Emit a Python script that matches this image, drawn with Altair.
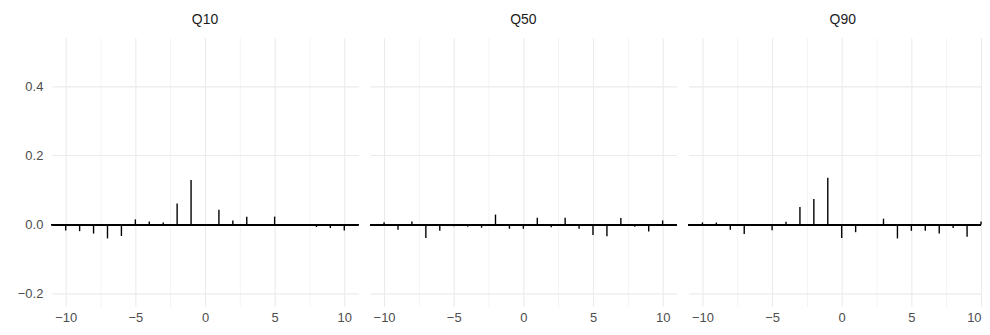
import altair as alt
import pandas as pd

lags = list(range(-10, 11))
q10 = [-0.017, -0.019, -0.026, -0.040, -0.033, 0.015, 0.009, 0.006, 0.061, 0.129, 0.0,
       0.043, 0.012, 0.023, -0.001, 0.023, 0.0, -0.004, -0.007, -0.010, -0.017]
q50 = [0.007, -0.015, 0.009, -0.039, -0.018, -0.005, -0.006, -0.009, 0.029, -0.012, -0.012,
       0.020, -0.008, 0.020, -0.012, -0.030, -0.034, 0.019, -0.006, -0.020, 0.012]
q90 = [0.006, 0.006, -0.015, -0.027, 0.002, -0.016, 0.008, 0.051, 0.074, 0.135, -0.039,
       -0.022, 0.0, 0.017, -0.040, -0.018, -0.018, -0.026, -0.010, -0.035, 0.009]
panels = ["Q10", "Q50", "Q90"]
x_ticks = [-10, -7.5, -5, -2.5, 0, 2.5, 5, 7.5, 10]
y_ticks = [-0.2, -0.1, 0.0, 0.1, 0.2, 0.3, 0.4, 0.5]

FONT = "Liberation Sans"
grid_col = "#EBEBEB"
PANEL_H = 270
yscale = alt.Scale(domain=[-0.236, 0.54], nice=False, zero=False)


def make_panel(name, vals, width, xmax, show_y, dx=0, flush=False):
    df = pd.DataFrame({"lag": lags, "acf": vals, "zero": [0.0] * len(lags)})
    xaxis = alt.Axis(
        values=x_ticks, title=None, ticks=False, domain=False, labelPadding=5,
        labelExpr="datum.value % 5 === 0 ? datum.label : ''",
        labelColor="#4D4D4D", labelFontSize=13, labelFont=FONT,
        gridColor=grid_col, labelFlush=flush,
        gridWidth={"condition": {"test": "datum.value % 5 === 0", "value": 1.1}, "value": 0.6},
    )
    if show_y:
        yaxis = alt.Axis(
            values=y_ticks, title=None, ticks=False, domain=False, labelPadding=9,
            labelExpr="abs(round(datum.value*10)) % 2 === 0 ? format(datum.value, '.1f') : ''",
            labelColor="#4D4D4D", labelFontSize=13, labelFont=FONT,
            gridColor=grid_col, minExtent=44, maxExtent=44,
            gridWidth={"condition": {"test": "abs(round(datum.value*10)) % 2 === 0", "value": 1.1}, "value": 0.6},
        )
    else:
        yaxis = alt.Axis(
            values=y_ticks, title=None, ticks=False, domain=False, labels=False,
            gridColor=grid_col, minExtent=0, maxExtent=0,
            gridWidth={"condition": {"test": "abs(round(datum.value*10)) % 2 === 0", "value": 1.1}, "value": 0.6},
        )
    xscale = alt.Scale(domain=[-11, xmax], nice=False, zero=False)
    bars = alt.Chart(df).mark_rule(color="black", strokeWidth=1.4).encode(
        x=alt.X("lag:Q", scale=xscale, axis=xaxis),
        y=alt.Y("zero:Q", scale=yscale, axis=yaxis),
        y2="acf:Q",
    )
    zero = alt.Chart(df).mark_rule(color="black", strokeWidth=1.4).encode(
        y=alt.datum(0, scale=yscale),
    )
    return alt.layer(bars, zero).properties(
        width=width, height=PANEL_H,
        title=alt.TitleParams(text=name, fontSize=14, fontWeight="normal", color="#1A1A1A",
                              font=FONT, anchor="middle", baseline="alphabetic", offset=0, dx=dx),
    )


p1 = make_panel("Q10", q10, 308, 11, True)
p2 = make_panel("Q50", q50, 308, 11, False)
p3 = make_panel("Q90", q90, 294, 10, False, dx=8, flush=True)

chart = alt.hconcat(p1, p2, p3, spacing=10).resolve_scale(x="independent").configure_view(
    stroke=None
).properties(padding={"left": 0, "top": 4, "right": 0, "bottom": 0})

chart.save("out.html", embed_options={"renderer": "svg", "actions": False})
